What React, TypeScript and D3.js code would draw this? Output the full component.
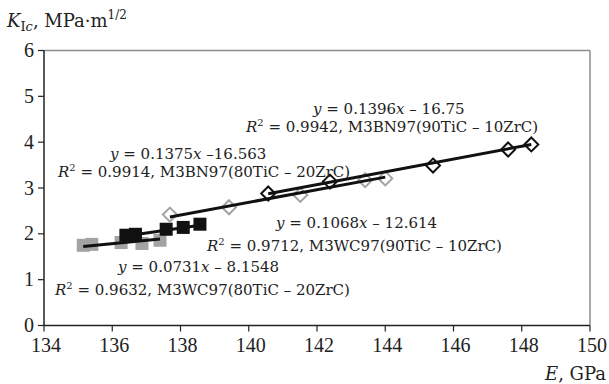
import React from "react";
import * as d3 from "d3";

const xTicks = [134, 136, 138, 140, 142, 144, 146, 148, 150];
const yTicks = [0, 1, 2, 3, 4, 5, 6];

const wc80E = [135.15, 135.4, 136.26, 136.87, 137.4];
const wc80K = [1.75, 1.77, 1.81, 1.79, 1.86];
const wc90E = [136.4, 136.68, 137.58, 138.08, 138.57];
const wc90K = [1.97, 1.99, 2.1, 2.14, 2.21];
const bn80E = [137.69, 139.42, 141.51, 143.41, 144.0];
const bn80K = [2.42, 2.58, 2.85, 3.17, 3.21];
const bn90E = [140.57, 142.38, 145.4, 147.6, 148.28];
const bn90K = [2.88, 3.14, 3.49, 3.84, 3.95];

const slopes = [0.0731, 0.1068, 0.1375, 0.1396];
const intercepts = [-8.1548, -12.614, -16.563, -16.75];

const W = 609;
const H = 384;
const FONT = "'DejaVu Serif', serif";
const TICKFONT = "'Liberation Serif', serif";

export default function App() {
  const x = d3.scaleLinear().domain([134, 150]).range([44, 590]);
  const y = d3.scaleLinear().domain([0, 6]).range([325.5, 50.5]);

  const series = [
    { E: wc80E, K: wc80K, kind: "sq", color: "#a3a3a3" },
    { E: wc90E, K: wc90K, kind: "sq", color: "#111111" },
    { E: bn80E, K: bn80K, kind: "dia", color: "#a3a3a3" },
    { E: bn90E, K: bn90K, kind: "dia", color: "#111111" },
  ];

  const line = d3
    .line<[number, number]>()
    .x((d) => x(d[0]))
    .y((d) => y(d[1]));

  const sq = 13;
  const dia = 7;

  return (
    <svg width={W} height={H} style={{ position: "absolute", left: 0, top: 0 }} fontFamily={FONT}>
      <rect width={W} height={H} fill="#fff" />
      {/* frame */}
      <line x1={x(134)} x2={x(150)} y1={y(6)} y2={y(6)} stroke="#8c8c8c" strokeWidth={1.5} />
      <line x1={x(150)} x2={x(150)} y1={y(6)} y2={y(0)} stroke="#8c8c8c" strokeWidth={1.5} />
      <line x1={x(134)} x2={x(134)} y1={y(6)} y2={y(0)} stroke="#222" strokeWidth={1.5} />
      <line x1={x(134)} x2={x(150)} y1={y(0)} y2={y(0)} stroke="#222" strokeWidth={1.5} />
      {yTicks.map((t) => (
        <g key={"y" + t}>
          <line x1={x(134) - 6} x2={x(134)} y1={y(t)} y2={y(t)} stroke="#222" strokeWidth={1.2} />
          <text x={x(134) - 10} y={y(t)} dy="0.33em" textAnchor="end" fontSize={20} fill="#222" fontFamily={TICKFONT}>
            {t}
          </text>
        </g>
      ))}
      {xTicks.map((t) => (
        <g key={"x" + t}>
          <line x1={x(t)} x2={x(t)} y1={y(0)} y2={y(0) + 6} stroke="#222" strokeWidth={1.2} />
          <text x={x(t) + 2} y={352} textAnchor="middle" fontSize={20} fill="#222" fontFamily={TICKFONT}>
            {t}
          </text>
        </g>
      ))}
      {/* markers */}
      {series.map((s, i) =>
        s.E.map((e, j) => {
          const cx = x(e);
          const cy = y(s.K[j]);
          if (s.kind === "sq") {
            return <rect key={i + "-" + j} x={cx - sq / 2} y={cy - sq / 2} width={sq} height={sq} fill={s.color} />;
          }
          return (
            <path
              key={i + "-" + j}
              d={`M${cx},${cy - dia}L${cx + dia},${cy}L${cx},${cy + dia}L${cx - dia},${cy}Z`}
              fill="#fff"
              stroke={s.color}
              strokeWidth={2}
            />
          );
        })
      )}
      {/* trend lines */}
      {series.map((s, i) => {
        const e0 = d3.min(s.E) as number;
        const e1 = d3.max(s.E) as number;
        const pts: [number, number][] = [
          [e0, slopes[i] * e0 + intercepts[i]],
          [e1, slopes[i] * e1 + intercepts[i]],
        ];
        return <path key={"t" + i} d={line(pts) || ""} stroke="#111" strokeWidth={3} fill="none" />;
      })}
      {/* annotations */}
      <g fontSize={15} fill="#222">
        <text x={313} y={114}>
          <tspan fontStyle="italic">y</tspan> = 0.1396<tspan fontStyle="italic">x</tspan> – 16.75
        </text>
        <text x={246} y={132}>
          <tspan fontStyle="italic">R</tspan>
          <tspan fontSize={10} dy={-6}>2</tspan>
          <tspan dy={6}> = 0.9942, M3BN97(90TiC – 10ZrC)</tspan>
        </text>
        <text x={110} y={159}>
          <tspan fontStyle="italic">y</tspan> = 0.1375<tspan fontStyle="italic">x</tspan> –16.563
        </text>
        <text x={58} y={177}>
          <tspan fontStyle="italic">R</tspan>
          <tspan fontSize={10} dy={-6}>2</tspan>
          <tspan dy={6}> = 0.9914, M3BN97(80TiC – 20ZrC)</tspan>
        </text>
        <text x={276} y={228}>
          <tspan fontStyle="italic">y</tspan> = 0.1068<tspan fontStyle="italic">x</tspan> – 12.614
        </text>
        <text x={207} y={251}>
          <tspan fontStyle="italic">R</tspan>
          <tspan fontSize={10} dy={-6}>2</tspan>
          <tspan dy={6}> = 0.9712, M3WC97(90TiC – 10ZrC)</tspan>
        </text>
        <text x={118} y={272}>
          <tspan fontStyle="italic">y</tspan> = 0.0731<tspan fontStyle="italic">x</tspan> – 8.1548
        </text>
        <text x={55} y={295}>
          <tspan fontStyle="italic">R</tspan>
          <tspan fontSize={10} dy={-6}>2</tspan>
          <tspan dy={6}> = 0.9632, M3WC97(80TiC – 20ZrC)</tspan>
        </text>
      </g>
      {/* axis titles */}
      <text x={7} y={27} fontSize={18} fill="#222">
        <tspan fontStyle="italic">K</tspan>
        <tspan fontSize={13} dy={4}>I</tspan>
        <tspan fontSize={13} fontStyle="italic">c</tspan>
        <tspan dy={-4}>, MPa·m</tspan>
        <tspan fontSize={12} dy={-8}>1/2</tspan>
      </text>
      <text x={606} y={380} fontSize={18} fill="#222" textAnchor="end">
        <tspan fontStyle="italic">E</tspan>, GPa
      </text>
    </svg>
  );
}
